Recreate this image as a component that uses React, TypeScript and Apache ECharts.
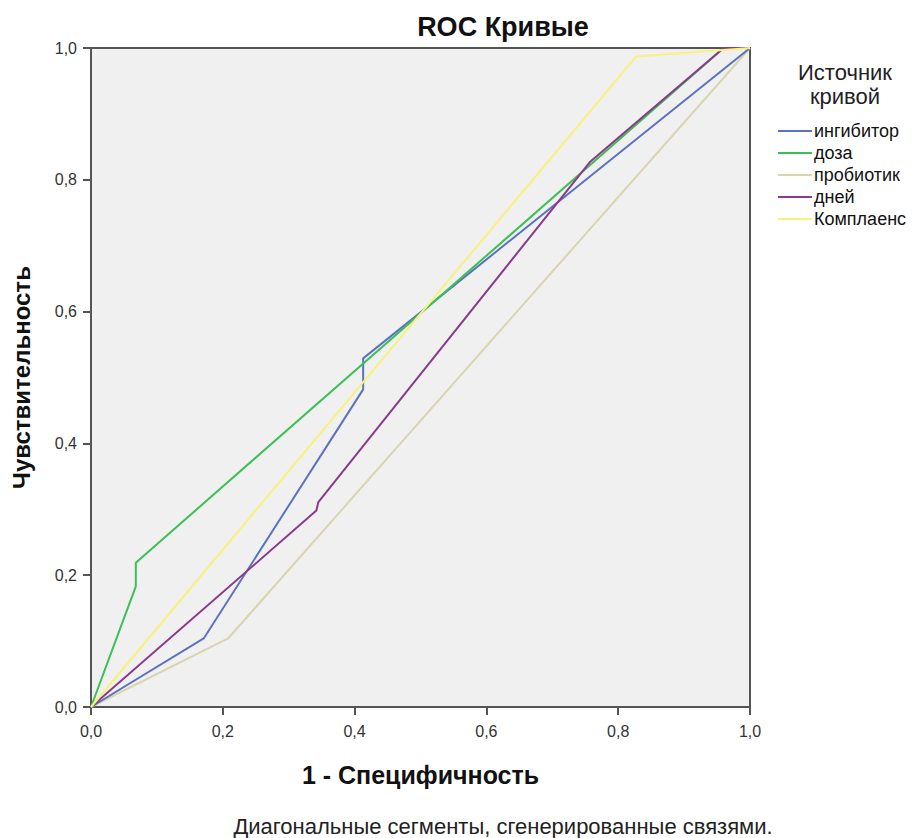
import React, { useEffect, useRef } from "react";
import * as echarts from "echarts";

const seriesNames = ["ингибитор", "доза", "пробиотик", "дней", "Комплаенс"];
const seriesColors = ["#5b73bf", "#3cbf55", "#d9d5ad", "#8a3a8a", "#f7f27c"];

const inhibitor: [number, number][] = [[0, 0], [0.171, 0.104], [0.413, 0.482], [0.413, 0.529], [1, 1]];
const dose: [number, number][] = [[0, 0], [0.068, 0.183], [0.068, 0.219], [0.96, 1], [1, 1]];
const probiotic: [number, number][] = [[0, 0], [0.208, 0.104], [1, 1]];
const days: [number, number][] = [[0, 0], [0.342, 0.298], [0.345, 0.311], [0.757, 0.827], [0.96, 1], [1, 1]];
const compliance: [number, number][] = [[0, 0], [0.827, 0.987], [1, 1]];

const allData = [inhibitor, dose, probiotic, days, compliance];

const titleText = "ROC Кривые";
const xName = "1 - Специфичность";
const yName = "Чувствительность";
const legendTitle = "Источник\nкривой";
const footnote = "Диагональные сегменты, сгенерированные связями.";

const FONT = "Arial, 'Liberation Sans', sans-serif";

export default function App() {
  const ref = useRef<HTMLDivElement>(null);
  useEffect(() => {
    if (!ref.current) return;
    const chart = echarts.init(ref.current, undefined, { renderer: "svg" });
    const fmt = (v: number) => v.toFixed(1).replace(".", ",");
    chart.setOption({
      animation: false,
      backgroundColor: "#ffffff",
      textStyle: { fontFamily: FONT },
      grid: {
        left: 91,
        top: 48,
        width: 659,
        height: 659,
        show: true,
        backgroundColor: "#f0f0f0",
        borderColor: "#555",
        borderWidth: 2,
      },
      legend: {
        orient: "vertical",
        left: 778,
        top: 122,
        padding: 0,
        itemWidth: 34,
        itemHeight: 2,
        itemGap: 4,
        icon: "rect",
        data: seriesNames,
        textStyle: { fontFamily: FONT, fontSize: 18, color: "#111", padding: [0, 0, 0, -3], lineHeight: 18 },
      },
      xAxis: {
        type: "value",
        min: 0,
        max: 1,
        interval: 0.2,
        name: xName,
        nameLocation: "middle",
        nameGap: 55,
        nameTextStyle: { fontFamily: FONT, fontSize: 25, fontWeight: "bold", color: "#111" },
        axisLine: { show: true, lineStyle: { color: "#555", width: 2 } },
        axisTick: { show: true, length: 8, lineStyle: { color: "#555", width: 2 } },
        axisLabel: { formatter: fmt, fontSize: 16, color: "#333", margin: 16, fontFamily: FONT },
        splitLine: { show: false },
      },
      yAxis: {
        type: "value",
        min: 0,
        max: 1,
        interval: 0.2,
        name: yName,
        nameLocation: "middle",
        nameGap: 58,
        nameTextStyle: { fontFamily: FONT, fontSize: 24, fontWeight: "bold", color: "#111" },
        axisLine: { show: true, lineStyle: { color: "#555", width: 2 } },
        axisTick: { show: true, length: 8, lineStyle: { color: "#555", width: 2 } },
        axisLabel: { formatter: fmt, fontSize: 16, color: "#333", margin: 14, fontFamily: FONT },
        splitLine: { show: false },
      },
      graphic: [
        {
          type: "text",
          x: 503,
          y: 27,
          style: {
            text: titleText,
            fontFamily: FONT,
            fontSize: 27,
            fontWeight: "bold",
            fill: "#111",
            align: "center",
            verticalAlign: "middle",
          },
        },
        {
          type: "text",
          x: 845,
          y: 60,
          style: {
            text: legendTitle,
            fontFamily: FONT,
            fontSize: 22,
            fill: "#222",
            align: "center",
            verticalAlign: "top",
            lineHeight: 24,
          },
        },
        {
          type: "text",
          x: 503,
          y: 826,
          style: {
            text: footnote,
            fontFamily: FONT,
            fontSize: 22,
            fill: "#222",
            align: "center",
            verticalAlign: "middle",
          },
        },
      ],
      series: allData.map((d, i) => ({
        name: seriesNames[i],
        type: "line",
        data: d,
        showSymbol: false,
        symbol: "none",
        z: i === 2 ? 1 : 2,
        lineStyle: { color: seriesColors[i], width: 2 },
        itemStyle: { color: seriesColors[i] },
      })),
    });
    return () => chart.dispose();
  }, []);
  return <div ref={ref} style={{ position: "fixed", left: 0, top: 0, width: 915, height: 838 }} />;
}
